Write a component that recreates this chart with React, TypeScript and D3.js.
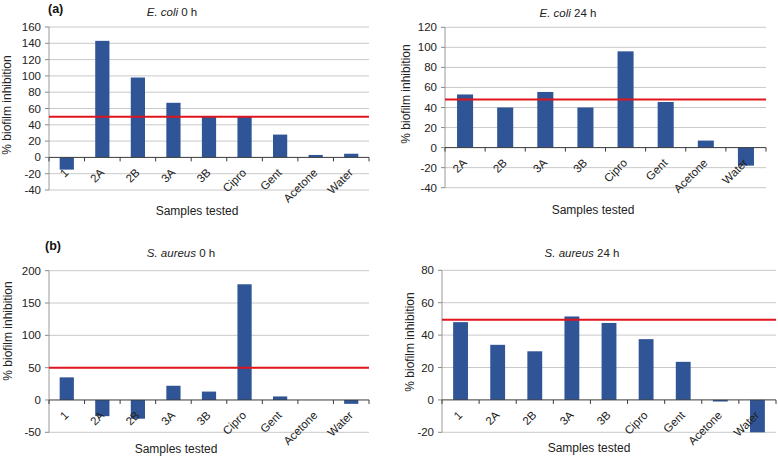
import React from "react";
import * as d3 from "d3";

const cats9 = ["1", "2A", "2B", "3A", "3B", "Cipro", "Gent", "Acetone", "Water"];
const cats8 = ["2A", "2B", "3A", "3B", "Cipro", "Gent", "Acetone", "Water"];

const ecoli0 = [-15, 143, 98, 67, 50, 50, 28, 3, 4.5];
const ecoli24 = [53, 40, 55.5, 40, 96, 45.5, 7, -18];
const saureus0 = [35, -25, -29, 22, 13, 179, 5.5, 0, -6];
const saureus24 = [48, 34, 30, 51.5, 47.5, 37.5, 23.5, -1, -20];

const ticksA = [-40, -20, 0, 20, 40, 60, 80, 100, 120, 140, 160];
const ticksB = [-40, -20, 0, 20, 40, 60, 80, 100, 120];
const ticksC = [-50, 0, 50, 100, 150, 200];
const ticksD = [-20, 0, 20, 40, 60, 80];

const thresholds = [50, 48, 50, 49.5];

const FONT = "'Liberation Sans', Arial, sans-serif";
const BAR = "#2F5597";
const RED = "#E0161E";
const GRID = "#C9C9C9";

type PanelProps = {
  cats: string[];
  values: number[];
  ticks: number[];
  threshold: number;
  left: number;
  right: number;
  top: number;
  bottom: number;
  italic: string;
  rest: string;
  titleX: number;
  titleY: number;
  yTitleX: number;
  yTitleY: number;
  xTitleX: number;
  xTitleY: number;
  tag?: string;
  tagX?: number;
  tagY?: number;
};

function Panel(p: PanelProps) {
  const y = d3
    .scaleLinear()
    .domain([p.ticks[0], p.ticks[p.ticks.length - 1]])
    .range([p.bottom, p.top]);
  const x = d3.scaleBand<string>().domain(p.cats).range([p.left, p.right]).padding(0);
  const bw = x.bandwidth() * 0.4;
  const y0 = y(0);
  const edges = p.cats.map((c) => x(c) as number).concat([p.right]);
  return (
    <g>
      {p.ticks.map((t) => (
        <g key={"g" + t}>
          {t !== 0 && (
            <line x1={p.left} x2={p.right} y1={y(t)} y2={y(t)} stroke={GRID} strokeWidth={1} />
          )}
          <line x1={p.left - 4} x2={p.left} y1={y(t)} y2={y(t)} stroke="#8a8a8a" strokeWidth={1} />
          <text
            x={p.left - 8}
            y={y(t)}
            dy="0.35em"
            textAnchor="end"
            fontSize={11.5}
            fill="#222"
          >
            {t}
          </text>
        </g>
      ))}
      <line x1={p.left} x2={p.left} y1={p.top} y2={p.bottom} stroke="#9a9a9a" strokeWidth={1} />
      {p.cats.map((c, i) => {
        const v = p.values[i];
        const cx = (x(c) as number) + x.bandwidth() / 2;
        return (
          <rect
            key={"b" + c}
            x={cx - bw / 2}
            width={bw}
            y={Math.min(y(v), y0)}
            height={Math.abs(y(v) - y0)}
            fill={BAR}
          />
        );
      })}
      <line x1={p.left} x2={p.right} y1={y0} y2={y0} stroke="#3a3a3a" strokeWidth={1} />
      {edges.map((e, i) => (
        <line key={"t" + i} x1={e} x2={e} y1={y0} y2={y0 + 4} stroke="#3a3a3a" strokeWidth={1} />
      ))}
      <line
        x1={p.left}
        x2={p.right}
        y1={y(p.threshold)}
        y2={y(p.threshold)}
        stroke={RED}
        strokeWidth={2}
      />
      {p.cats.map((c) => {
        const cx = (x(c) as number) + x.bandwidth() / 2;
        return (
          <text
            key={"l" + c}
            transform={`translate(${cx + 2.5},${y0 + 16}) rotate(-45)`}
            textAnchor="end"
            fontSize={11.5}
            fill="#222"
          >
            {c}
          </text>
        );
      })}
      <text x={p.titleX} y={p.titleY} textAnchor="middle" fontSize={11.5} fill="#222">
        <tspan fontStyle="italic">{p.italic}</tspan>
        <tspan>{p.rest}</tspan>
      </text>
      <text
        transform={`translate(${p.yTitleX},${p.yTitleY}) rotate(-90)`}
        textAnchor="middle"
        fontSize={12}
        fill="#222"
      >
        % biofilm inhibition
      </text>
      <text x={p.xTitleX} y={p.xTitleY} textAnchor="middle" fontSize={12} fill="#222">
        Samples tested
      </text>
      {p.tag && (
        <text x={p.tagX} y={p.tagY} fontSize={12.5} fontWeight="bold" fill="#111">
          {p.tag}
        </text>
      )}
    </g>
  );
}

export default function App() {
  return (
    <svg
      width={778}
      height={458}
      style={{ position: "absolute", left: 0, top: 0, background: "#fff" }}
      fontFamily={FONT}
    >
      <rect width={778} height={458} fill="#fff" />
      <Panel
        cats={cats9}
        values={ecoli0}
        ticks={ticksA}
        threshold={thresholds[0]}
        left={49}
        right={369}
        top={27}
        bottom={190}
        italic="E. coli"
        rest=" 0 h"
        titleX={172}
        titleY={16}
        yTitleX={11}
        yTitleY={105}
        xTitleX={197}
        xTitleY={215}
        tag="(a)"
        tagX={48}
        tagY={13}
      />
      <Panel
        cats={cats8}
        values={ecoli24}
        ticks={ticksB}
        threshold={thresholds[1]}
        left={445}
        right={766}
        top={27.3}
        bottom={187.7}
        italic="E. coli"
        rest=" 24 h"
        titleX={568}
        titleY={17}
        yTitleX={410}
        yTitleY={94}
        xTitleX={593}
        xTitleY={214}
      />
      <Panel
        cats={cats9}
        values={saureus0}
        ticks={ticksC}
        threshold={thresholds[2]}
        left={49}
        right={369}
        top={270.7}
        bottom={432.3}
        italic="S. aureus"
        rest=" 0 h"
        titleX={181}
        titleY={257}
        yTitleX={12}
        yTitleY={331}
        xTitleX={176}
        xTitleY={453}
        tag="(b)"
        tagX={45}
        tagY={250}
      />
      <Panel
        cats={cats9}
        values={saureus24}
        ticks={ticksD}
        threshold={thresholds[3]}
        left={442}
        right={776}
        top={270.3}
        bottom={432.3}
        italic="S. aureus"
        rest=" 24 h"
        titleX={582}
        titleY={257}
        yTitleX={414}
        yTitleY={342}
        xTitleX={589}
        xTitleY={452}
      />
    </svg>
  );
}
